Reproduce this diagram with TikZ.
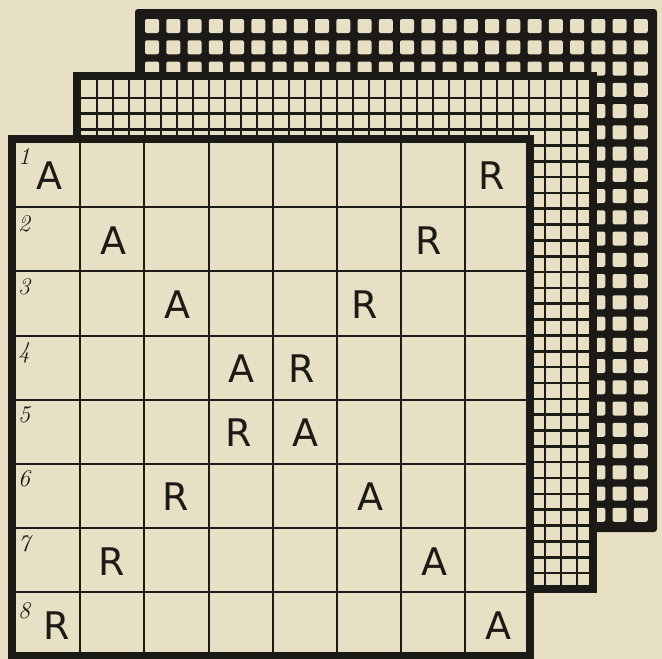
\documentclass[tikz,border=0pt]{standalone}
\usepackage{fontspec}
\setsansfont{DejaVu Sans}
\usetikzlibrary{positioning}
\definecolor{chkPaper}{HTML}{E8E0C4}
\definecolor{chkInk}{HTML}{1C1A17}
\tikzset{
  sheet/.style={draw=chkInk, line width=#1},
  sheet/.default=8pt,
  rule/.style={draw=chkInk, line width=#1},
  rule/.default=2pt,
  hole/.style={fill=chkPaper, rounded corners=2pt},
  piece/.style={font=\sffamily\fontsize{38}{38}\selectfont, text=chkInk, inner sep=0pt},
  rowno/.style={font=\itshape\fontsize{24}{24}\selectfont, text=chkInk,
                inner sep=0pt, anchor=north west},
}

\begin{document}
\begin{tikzpicture}[x=1pt,y=-1pt]
\useasboundingbox[fill=chkPaper] (0,0) rectangle (662,659);

% back sheet: coarse mesh
\fill[chkInk, rounded corners=3pt] (135,9) rectangle (657,532);
\foreach \i in {0,...,23}
  \foreach \j in {0,...,23}
    \fill[hole] ({145+21.25*\i},{19+21.25*\j}) rectangle ++(14,14);

% middle sheet: fine mesh
\fill[chkPaper] (77,76) rectangle (593,589);
\foreach \k in {1,...,31} {
  \draw[rule=2.6pt] ({81+16*\k},76) -- ({81+16*\k},589);
  \draw[rule=2.6pt] (77,{82+15.84*\k}) -- (593,{82+15.84*\k});
}
\draw[sheet] (77,76) rectangle (593,589);

% front sheet: the board
\fill[chkPaper] (12,139) rectangle (530,656);
\foreach \k in {1,...,7} {
  \draw[rule] ({16+64.2*\k},139) -- ({16+64.2*\k},656);
  \draw[rule] (12,{143+64.2*\k}) -- (530,{143+64.2*\k});
}
\draw[sheet] (12,139) rectangle (530,656);

% row numbers
\foreach \r/\dy in {1/5,2/8,3/7,4/7,5/7,6/6,7/7,8/10}
  \node[rowno] (n\r) at (18,{143+64.2*(\r-1)+\dy}) {\r};

% the two diagonals
\foreach \r/\dr in {1/-6,2/-5,3/-4,4/-3,5/-2,6/-1,7/-1,8/9} {
  \node[piece] (A\r) at ({16+64.2*(\r-0.5)+1},{143+64.2*(\r-0.5)+1}) {A};
  \node[piece] (R\r) at ({16+64.2*(8.5-\r)+\dr},{143+64.2*(\r-0.5)+1}) {R};
}

\end{tikzpicture}
\end{document}
